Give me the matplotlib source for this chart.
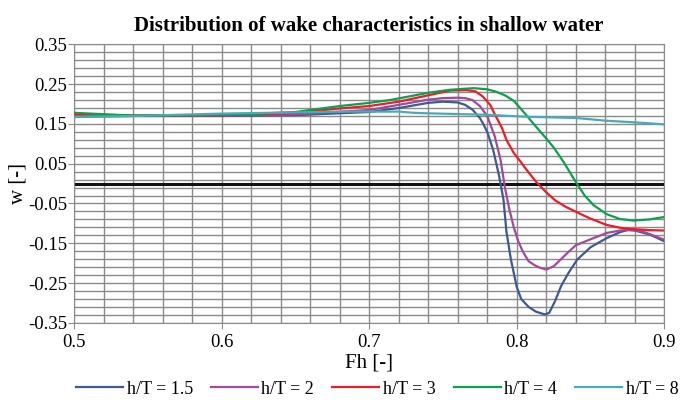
import numpy as np
import matplotlib.pyplot as plt
import matplotlib as mpl

mpl.rcParams['font.family'] = 'serif'
mpl.rcParams['font.serif'] = ['Liberation Serif', 'DejaVu Serif']

# h/T = 1.5
x15 = [0.50, 0.54, 0.60, 0.65, 0.70, 0.72, 0.74, 0.75, 0.76, 0.765, 0.77, 0.775, 0.777,
       0.78, 0.784, 0.788, 0.791, 0.793, 0.796, 0.80, 0.803, 0.808, 0.813, 0.819, 0.822,
       0.826, 0.83, 0.835, 0.841, 0.85, 0.861, 0.87, 0.875, 0.88, 0.89, 0.90]
w15 = [0.168, 0.170, 0.170, 0.172, 0.180, 0.190, 0.203, 0.206, 0.204, 0.198, 0.186, 0.165, 0.152,
       0.130, 0.085, 0.020, -0.040, -0.120, -0.190, -0.260, -0.290, -0.310, -0.322, -0.329, -0.325,
       -0.295, -0.258, -0.225, -0.191, -0.160, -0.137, -0.122, -0.117, -0.118, -0.128, -0.145]
# h/T = 2
x2 = [0.50, 0.54, 0.60, 0.65, 0.70, 0.72, 0.74, 0.75, 0.76, 0.765, 0.77, 0.775, 0.78, 0.785,
      0.789, 0.792, 0.795, 0.798, 0.801, 0.804, 0.808, 0.812, 0.816, 0.82, 0.825, 0.83, 0.835, 0.84,
      0.85, 0.861, 0.87, 0.877, 0.885, 0.89, 0.90]
w2 = [0.170, 0.171, 0.171, 0.174, 0.185, 0.198, 0.211, 0.215, 0.216, 0.215, 0.210, 0.195, 0.170, 0.120,
      0.060, -0.010, -0.065, -0.110, -0.145, -0.170, -0.195, -0.205, -0.212, -0.216, -0.208, -0.190,
      -0.172, -0.155, -0.140, -0.124, -0.118, -0.116, -0.120, -0.127, -0.141]
# h/T = 3
x3 = [0.50, 0.54, 0.60, 0.65, 0.68, 0.70, 0.72, 0.74, 0.755, 0.766, 0.772, 0.777, 0.782, 0.786,
      0.79, 0.793, 0.798, 0.802, 0.807, 0.813, 0.82, 0.826, 0.833, 0.843, 0.85, 0.861, 0.87,
      0.877, 0.89, 0.90]
w3 = [0.174, 0.171, 0.172, 0.178, 0.189, 0.195, 0.206, 0.222, 0.234, 0.235, 0.232, 0.219, 0.198, 0.168,
      0.140, 0.110, 0.077, 0.058, 0.033, 0.005, -0.022, -0.042, -0.058, -0.076, -0.088, -0.104, -0.111,
      -0.114, -0.117, -0.118]
# h/T = 4
x4 = [0.50, 0.54, 0.60, 0.65, 0.68, 0.70, 0.714, 0.741, 0.755, 0.771, 0.78, 0.786, 0.792, 0.798,
      0.804, 0.811, 0.818, 0.825, 0.832, 0.839, 0.846, 0.852, 0.861, 0.87, 0.879, 0.89, 0.90]
w4 = [0.178, 0.171, 0.172, 0.180, 0.195, 0.203, 0.210, 0.229, 0.236, 0.240, 0.237, 0.231, 0.222, 0.208,
      0.183, 0.152, 0.122, 0.091, 0.053, 0.010, -0.030, -0.054, -0.077, -0.089, -0.093, -0.090, -0.084]
# h/T = 8
x8 = [0.50, 0.54, 0.60, 0.65, 0.68, 0.72, 0.73, 0.737, 0.78, 0.807, 0.84, 0.861, 0.88, 0.90]
w8 = [0.168, 0.170, 0.176, 0.179, 0.181, 0.181, 0.178, 0.177, 0.173, 0.168, 0.165, 0.158, 0.154, 0.149]

series = [
    (x15, w15, 'h/T = 1.5', '#3d5a91'),
    (x2, w2, 'h/T = 2', '#a04a9a'),
    (x3, w3, 'h/T = 3', '#ee1c25'),
    (x4, w4, 'h/T = 4', '#0ba04b'),
    (x8, w8, 'h/T = 8', '#4aaab8'),
]

fig = plt.figure(figsize=(6.92, 4.0), dpi=100)
ax = fig.add_axes([0.107, 0.193, 0.853, 0.696])

ax.set_xlim(0.5, 0.9)
ax.set_ylim(-0.35, 0.35)
ax.set_xticks([0.5, 0.6, 0.7, 0.8, 0.9])
ax.set_xticklabels(['0.5', '0.6', '0.7', '0.8', '0.9'])
ax.set_xticks(np.arange(0.5, 0.9001, 0.02), minor=True)
yt = np.arange(-0.35, 0.351, 0.1)
ax.set_yticks(yt)
ax.set_yticklabels(['%.2f' % v for v in yt])
ax.set_yticks(np.arange(-0.35, 0.351, 0.02), minor=True)
ax.grid(True, which='both', color='#8a8a8a', linewidth=1.0)
ax.set_axisbelow(True)
for s in ax.spines.values():
    s.set_color('#8a8a8a')
ax.tick_params(which='major', length=4, color='#8a8a8a', labelsize=13.5, pad=1)
ax.tick_params(which='minor', length=0)
ax.tick_params(axis='x', pad=4)

ax.axhline(0.0, color='#111111', linewidth=2.2, zorder=2)

for xs, ws, lab, c in series:
    ax.plot(xs, ws, color=c, linewidth=1.6, label=lab, zorder=3)

ax.set_title('Distribution of wake characteristics in shallow water',
             fontsize=15, fontweight='bold', pad=10)
ax.set_xlabel('Fh [-]', fontsize=15, labelpad=2)
ax.set_ylabel('w [-]', fontsize=15, labelpad=0)

fig.legend(loc='lower center', bbox_to_anchor=(0.545, -0.035), ncol=5, frameon=False,
           fontsize=13, handlelength=2.6, handletextpad=0.2, columnspacing=1.0)

fig.savefig('out.png', dpi=100)
